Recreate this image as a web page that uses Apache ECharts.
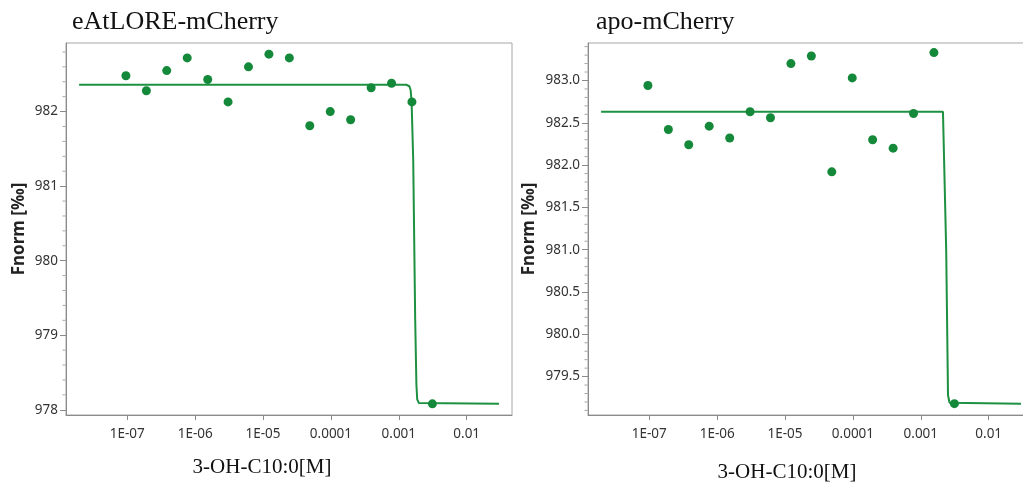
<!DOCTYPE html>
<html>
<head>
<meta charset="utf-8">
<script src="https://cdn.jsdelivr.net/npm/echarts@6/dist/echarts.min.js"></script>
<style>
  html, body { margin: 0; padding: 0; background: #fff; }
  #layout { width: 1023px; height: 482px; }
</style>
</head>
<body>
<div id="layout"></div>
<script>
// concentration series [M]
const conc = [9.54e-8, 1.91e-7, 3.81e-7, 7.63e-7, 1.53e-6, 3.05e-6, 6.10e-6, 1.22e-5,
              2.44e-5, 4.88e-5, 9.77e-5, 1.95e-4, 3.91e-4, 7.81e-4, 1.56e-3, 3.125e-3];

// eAtLORE-mCherry
const fnormA = [982.48, 982.28, 982.55, 982.72, 982.43, 982.13, 982.60, 982.77,
                982.72, 981.81, 982.00, 981.89, 982.32, 982.38, 982.13, 978.08];
const fitXA = [1.95e-8, 1.29e-3, 1.432e-3, 1.493e-3, 1.543e-3, 1.630e-3, 1.743e-3, 1.816e-3, 1.866e-3, 1.977e-3, 2.99e-2];
const fitYA = [982.36, 982.36, 982.34, 982.29, 982.13, 981.35, 979.21, 978.34, 978.14, 978.09, 978.08];

// apo-mCherry
const fnormB = [982.94, 982.42, 982.24, 982.46, 982.32, 982.63, 982.56, 983.20,
                983.29, 981.92, 983.03, 982.30, 982.20, 982.61, 983.33, 979.18];
const fitXB = [1.95e-8, 2.12e-3, 2.234e-3, 2.366e-3, 2.516e-3, 2.65e-3, 2.99e-2];
const fitYB = [982.63, 982.63, 982.61, 980.99, 979.28, 979.19, 979.18];

// ticks
const xMin = 1.25e-8, xMax = 4.65e-2;
const xTicks = [1e-7, 1e-6, 1e-5, 1e-4, 1e-3, 1e-2];
const xTickLabels = ['1E-07', '1E-06', '1E-05', '0.0001', '0.001', '0.01'];
const yTicksA = [978, 979, 980, 981, 982];
const yTicksB = [979.5, 980.0, 980.5, 981.0, 981.5, 982.0, 982.5, 983.0];
const yMinorA = [978.2, 978.4, 978.6, 978.8, 979.2, 979.4, 979.6, 979.8, 980.2, 980.4, 980.6, 980.8,
                 981.2, 981.4, 981.6, 981.8, 982.2, 982.4, 982.6, 982.8];
const yMinorB = [979.1, 979.2, 979.3, 979.4, 979.6, 979.7, 979.8, 979.9, 980.1, 980.2, 980.3, 980.4,
                 980.6, 980.7, 980.8, 980.9, 981.1, 981.2, 981.3, 981.4, 981.6, 981.7, 981.8, 981.9,
                 982.1, 982.2, 982.3, 982.4, 982.6, 982.7, 982.8, 982.9, 983.1, 983.2, 983.3, 983.4];

const green = '#14893a';
const lineGreen = '#1e9141';

function xLabel(v) {
    let i = xTicks.findIndex(t => Math.abs(Math.log10(t) - Math.log10(v)) < 1e-6);
    return i >= 0 ? xTickLabels[i] : '';
}

const labelFont = { fontFamily: 'Noto Sans', fontSize: 13.5, color: '#333' };

function xAxisFor(grid) {
    return {
        type: 'log', logBase: 10, gridIndex: grid,
        min: xMin, max: xMax,
        axisLine: { show: true, lineStyle: { color: '#8a8a8a', width: 1 } },
        axisTick: { show: true, length: 5, customValues: xTicks, lineStyle: { color: '#8a8a8a' } },
        axisLabel: Object.assign({ margin: 12, customValues: xTicks, formatter: xLabel }, labelFont),
        minorTick: { show: false },
        splitLine: { show: false }
    };
}

function yAxisFor(grid, min, max, ticks, digits, gap) {
    return {
        type: 'value', gridIndex: grid, min: min, max: max, position: 'left',
        name: 'Fnorm [‰]', nameLocation: 'middle', nameGap: gap,
        nameTextStyle: { fontFamily: 'Noto Sans', fontWeight: 'bold', fontSize: 17, color: '#222' },
        axisLine: { show: true, lineStyle: { color: '#8a8a8a', width: 1 } },
        axisTick: { show: true, length: 6, customValues: ticks, lineStyle: { color: '#8a8a8a' } },
        axisLabel: Object.assign({ margin: 8, customValues: ticks,
            formatter: v => v.toFixed(digits) }, labelFont),
        splitLine: { show: false }
    };
}

// short minor ticks on the left edge, placed through the axes
function minorTickSeries(grid, minor) {
    return {
        type: 'scatter', xAxisIndex: grid, yAxisIndex: grid, silent: true, clip: false,
        data: minor.map(v => [xMin, v]),
        symbol: 'rect', symbolSize: [3, 1], symbolOffset: [-2, 0],
        itemStyle: { color: '#8f8f8f' }, z: 1
    };
}

let myChart = echarts.init(document.getElementById('layout'));
let option = {
    animation: false,
    grid: [
        { left: 66, top: 43, width: 446, height: 372, show: true, borderColor: '#a6a6a6', borderWidth: 1,
          outerBoundsMode: 'none', containLabel: false },
        { left: 588, top: 43, width: 446, height: 372, show: true, borderColor: '#a6a6a6', borderWidth: 1,
          outerBoundsMode: 'none', containLabel: false }
    ],
    xAxis: [xAxisFor(0), xAxisFor(1)],
    yAxis: [
        yAxisFor(0, 977.93, 982.92, yTicksA, 0, 38),
        yAxisFor(1, 979.046, 983.443, yTicksB, 1, 50)
    ],
    graphic: [
        { type: 'text', left: 72, top: 9, style: { text: 'eAtLORE-mCherry', font: '26px "Liberation Serif"', fill: '#111' } },
        { type: 'text', left: 596, top: 9, style: { text: 'apo-mCherry', font: '26px "Liberation Serif"', fill: '#111' } },
        { type: 'text', x: 262, y: 467, style: { text: '3-OH-C10:0[M]', font: '21px "Liberation Serif"', fill: '#111', align: 'center', verticalAlign: 'middle' } },
        { type: 'text', x: 787, y: 472, style: { text: '3-OH-C10:0[M]', font: '21px "Liberation Serif"', fill: '#111', align: 'center', verticalAlign: 'middle' } }
    ],
    series: [
        minorTickSeries(0, yMinorA),
        minorTickSeries(1, yMinorB),
        { type: 'line', xAxisIndex: 0, yAxisIndex: 0, data: fitXA.map((x, i) => [x, fitYA[i]]),
          showSymbol: false, lineStyle: { color: lineGreen, width: 2 }, z: 2 },
        { type: 'scatter', xAxisIndex: 0, yAxisIndex: 0, data: conc.map((x, i) => [x, fnormA[i]]),
          symbolSize: 9, itemStyle: { color: green, opacity: 1 }, z: 3 },
        { type: 'line', xAxisIndex: 1, yAxisIndex: 1, data: fitXB.map((x, i) => [x, fitYB[i]]),
          showSymbol: false, lineStyle: { color: lineGreen, width: 2 }, z: 2 },
        { type: 'scatter', xAxisIndex: 1, yAxisIndex: 1, data: conc.map((x, i) => [x, fnormB[i]]),
          symbolSize: 9, itemStyle: { color: green, opacity: 1 }, z: 3 }
    ]
};
myChart.setOption(option);
</script>
</body>
</html>
